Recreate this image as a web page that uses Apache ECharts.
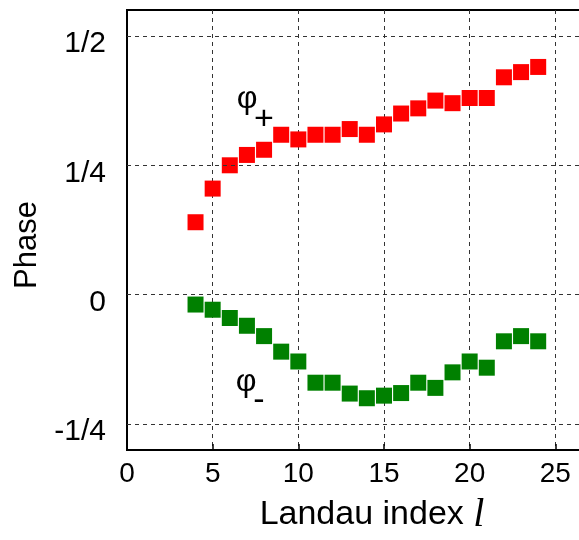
<!DOCTYPE html>
<html>
<head>
<meta charset="utf-8">
<script src="https://cdn.jsdelivr.net/npm/echarts@6/dist/echarts.min.js"></script>
<style>
html, body { margin: 0; padding: 0; background: #fff; }
#chart { width: 579px; height: 540px; }
</style>
</head>
<body>
<div id="chart"></div>
<script>
// Landau index l on x, phase on y (in units of 2*pi)
const landau = [4, 5, 6, 7, 8, 9, 10, 11, 12, 13, 14, 15, 16, 17, 18, 19, 20, 21, 22, 23, 24]
const phiPlus = [0.140, 0.205, 0.250, 0.270, 0.280, 0.309, 0.300, 0.309, 0.309, 0.320, 0.309, 0.329,
    0.350, 0.360, 0.375, 0.370, 0.380, 0.380, 0.420, 0.430, 0.440]
const phiMinus = [-0.019, -0.029, -0.045, -0.060, -0.080, -0.110, -0.129, -0.170, -0.170, -0.191, -0.200,
    -0.195, -0.190, -0.170, -0.180, -0.150, -0.129, -0.141, -0.090, -0.080, -0.090]
const phaseTicks = [0.5, 0.25, 0, -0.25]
const phaseTickLabels = ['1/2', '1/4', '0', '-1/4']

const font = 'Liberation Sans, Arial, sans-serif'

const myChart = echarts.init(document.getElementById('chart'))

function phaseLabel(v) {
    for (let i = 0; i < phaseTicks.length; i++) {
        if (Math.abs(v - phaseTicks[i]) < 1e-6) return phaseTickLabels[i]
    }
    return ''
}

const option = {
    animation: false,
    backgroundColor: '#fff',
    textStyle: { fontFamily: font, color: '#000' },
    grid: {
        show: true,
        left: 127,
        top: 10,
        width: 490,
        bottom: 90,
        outerBoundsMode: 'none',
        borderColor: '#000',
        borderWidth: 2
    },
    xAxis: {
        type: 'value',
        min: 0,
        max: 28.6,
        interval: 5,
        name: 'Landau index {it|l}',
        nameLocation: 'middle',
        nameGap: 45,
        nameTextStyle: {
            fontSize: 34, color: '#000', fontFamily: font,
            rich: { it: { fontFamily: 'Liberation Serif, serif', fontStyle: 'italic', fontSize: 40, color: '#000' } }
        },
        axisLine: { onZero: false, lineStyle: { color: '#000', width: 2 } },
        axisTick: { inside: true, length: 6, lineStyle: { color: '#000', width: 1.5 } },
        axisLabel: { fontSize: 28, color: '#000', margin: 10, fontFamily: font, showMaxLabel: false },
        splitLine: { show: true, lineStyle: { type: [4, 4], color: '#333', width: 1 } }
    },
    yAxis: {
        type: 'value',
        min: -0.3,
        max: 0.55,
        interval: 0.05,
        name: 'Phase',
        nameLocation: 'middle',
        nameRotate: 90,
        nameGap: 79,
        nameTextStyle: { fontSize: 31, color: '#000', fontFamily: font, padding: [0, 30, 0, 0] },
        axisLine: { lineStyle: { color: '#000', width: 2 } },
        axisTick: { show: false },
        axisLabel: {
            fontSize: 30, color: '#000', margin: 21, fontFamily: font,
            verticalAlign: 'top', lineHeight: 16, formatter: phaseLabel
        },
        splitLine: { show: false }
    },
    series: [
        {
            type: 'line',
            data: [],
            z: 1,
            markLine: {
                silent: true,
                symbol: ['none', 'none'],
                label: { show: false },
                lineStyle: { type: [4, 4], color: '#333', width: 1 },
                data: phaseTicks.map(v => ({ yAxis: v }))
            }
        },
        {
            type: 'scatter',
            z: 3,
            symbol: 'rect',
            symbolSize: 16,
            itemStyle: { color: '#ff0000', opacity: 1 },
            data: landau.map((l, i) => [l, phiPlus[i]])
        },
        {
            type: 'scatter',
            z: 3,
            symbol: 'rect',
            symbolSize: 16,
            itemStyle: { color: '#008000', opacity: 1 },
            data: landau.map((l, i) => [l, phiMinus[i]])
        }
    ],
    graphic: [
        { type: 'text', x: 247, y: 99, style: { text: 'φ', font: '32px ' + font, fill: '#000', align: 'center', verticalAlign: 'middle' } },
        { type: 'text', x: 264, y: 120, style: { text: '+', font: '34px ' + font, fill: '#000', align: 'center', verticalAlign: 'middle' } },
        { type: 'text', x: 246, y: 382, style: { text: 'φ', font: '32px ' + font, fill: '#000', align: 'center', verticalAlign: 'middle' } },
        { type: 'text', x: 259, y: 401, style: { text: '-', font: '34px ' + font, fill: '#000', align: 'center', verticalAlign: 'middle' } }
    ]
}

myChart.setOption(option)
</script>
</body>
</html>
